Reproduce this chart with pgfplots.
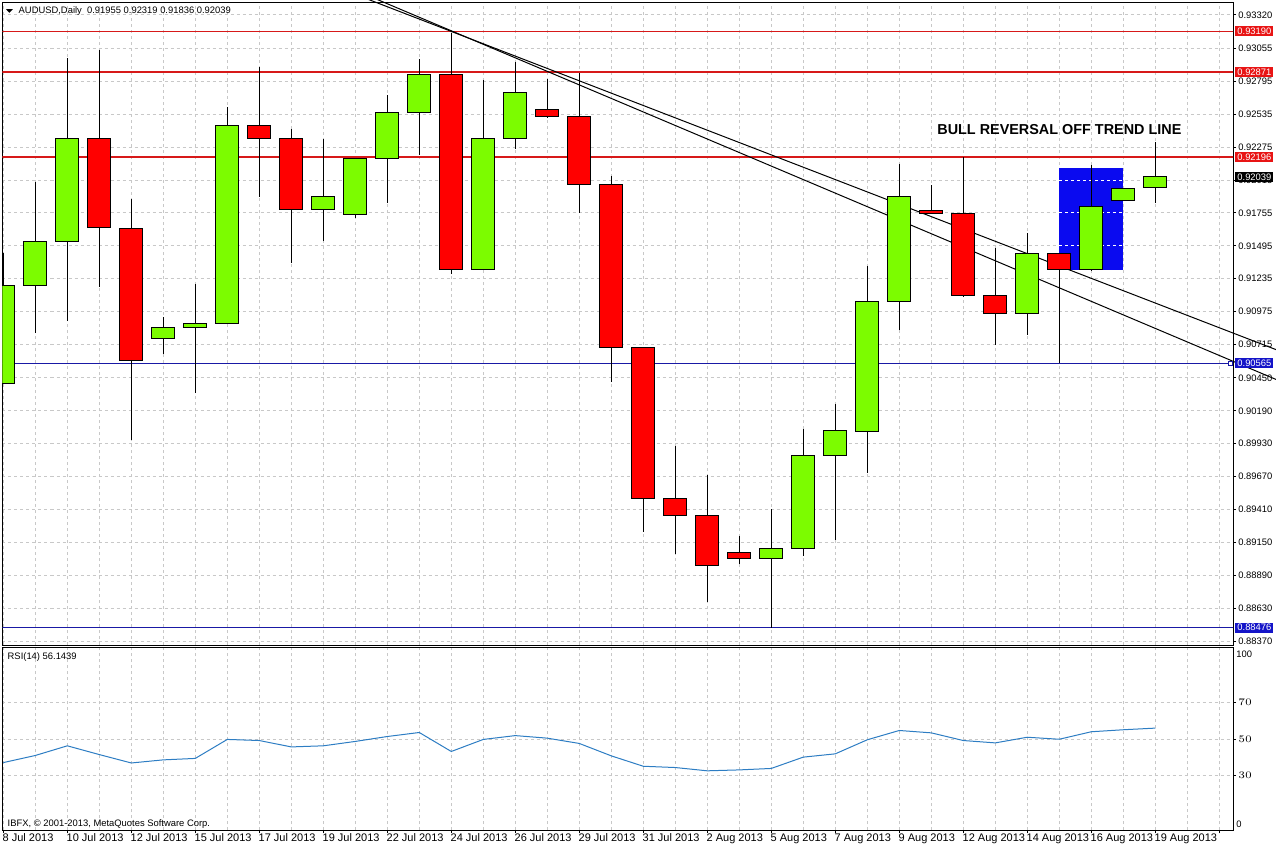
\documentclass[border=0pt]{standalone}
\usepackage{pgfplots}
\pgfplotsset{compat=1.18}
\usepackage{pgfplotstable}
\usepackage{fontspec}
\setmainfont{Liberation Sans}

\definecolor{upgreen}{RGB}{124,252,0}
\definecolor{dnred}{RGB}{255,0,0}
\definecolor{lvlred}{RGB}{215,25,25}
\definecolor{boxred}{RGB}{232,20,20}
\definecolor{lvlblue}{RGB}{25,25,165}
\definecolor{boxblue}{RGB}{20,20,200}
\definecolor{rectblue}{RGB}{10,10,240}
\definecolor{rsiblue}{RGB}{45,125,195}
\definecolor{gridgray}{RGB}{200,200,200}

\newcommand\tickfont{\fontsize{4.7}{5.5}\selectfont}
\newcommand\datefont{\fontsize{5.5}{6.5}\selectfont}

% bar index (0 = 8 Jul 2013, Sunday bars included), open, high, low, close
\pgfplotstableread{
i  o       h       l       c
0  0.90408 0.91438 0.90406 0.91179
1  0.91181 0.92002 0.90803 0.91531
2  0.91531 0.92982 0.90900 0.92345
5  0.90764 0.90934 0.90637 0.90851
6  0.90851 0.91198 0.90329 0.90882
7  0.90882 0.92595 0.90877 0.92448
10 0.91784 0.92337 0.91535 0.91883
11 0.91744 0.92190 0.91712 0.92187
12 0.92187 0.92687 0.91836 0.92551
13 0.92551 0.92970 0.92213 0.92852
15 0.91308 0.92803 0.91302 0.92341
16 0.92341 0.92945 0.92257 0.92706
24 0.89023 0.89411 0.88476 0.89101
25 0.89104 0.90050 0.89043 0.89840
26 0.89840 0.90242 0.89169 0.90036
27 0.90030 0.91338 0.89698 0.91056
28 0.91056 0.92139 0.90829 0.91886
32 0.90961 0.91594 0.90790 0.91436
34 0.91309 0.92134 0.91298 0.91810
35 0.91857 0.91955 0.91850 0.91950
36 0.91955 0.92319 0.91836 0.92039
}\upbars

\pgfplotstableread{
i  o       h       l       c
3  0.92345 0.93043 0.91172 0.91638
4  0.91633 0.91865 0.89959 0.90590
8  0.92448 0.92911 0.91883 0.92345
9  0.92345 0.92416 0.91361 0.91784
14 0.92852 0.93180 0.91270 0.91308
17 0.92574 0.92816 0.92502 0.92519
18 0.92519 0.92864 0.91754 0.91980
19 0.91980 0.92051 0.90421 0.90692
20 0.90692 0.90695 0.89233 0.89498
21 0.89498 0.89912 0.89056 0.89362
22 0.89362 0.89685 0.88678 0.88969
23 0.89072 0.89201 0.88981 0.89023
29 0.91776 0.91976 0.91750 0.91754
30 0.91752 0.92195 0.91088 0.91104
31 0.91104 0.91480 0.90711 0.90961
33 0.91436 0.91440 0.90565 0.91309
}\downbars

\pgfplotstableread{
i  v
0  37.2
1  41.1
2  46.4
3  41.6
4  37.0
5  38.7
6  39.5
7  49.9
8  49.3
9  45.8
10 46.4
11 48.8
12 51.5
13 53.7
14 43.3
15 49.9
16 52.0
17 50.6
18 47.7
19 40.9
20 35.2
21 34.5
22 32.7
23 33.2
24 34.0
25 40.2
26 42.0
27 49.7
28 54.8
29 53.5
30 49.3
31 48.0
32 51.1
33 50.0
34 54.1
35 55.2
36 56.1
}\rsidata

\pgfplotsset{
  mt4/.style={
    scale only axis, clip mode=individual,
    xmin=-0.025, xmax=38.43,
    axis line style={black, line width=0.5pt},
    tick align=outside, major tick length=1.5pt, minor tick length=0pt,
    tick style={black, line width=0.5pt},
    ytick pos=right, yticklabel pos=right,
    yticklabel style={font=\tickfont, anchor=west, inner sep=0pt, xshift=1pt},
    xtick={0,2,...,38}, minor xtick={1,3,...,37},
    grid=both,
    major grid style={gridgray, line width=0.5pt, dash pattern=on 1.5pt off 1.5pt},
    minor grid style={gridgray, line width=0.5pt, dash pattern=on 1.5pt off 1.5pt},
  },
  wick/.style={draw=none, mark=none, forget plot,
    error bars/.cd, y dir=both, y explicit, error mark=none,
    error bar style={draw=black, line width=0.5pt}},
  body/.style 2 args={draw=none, mark=none, forget plot,
    error bars/.cd, y dir=both, y explicit, error mark=none,
    error bar style={draw=#1, line width=#2}},
  level/.style={draw=#1, line width=0.75pt, mark=none, forget plot},
}

\begin{document}
\begin{tikzpicture}
\path[use as bounding box] (0,0) rectangle (638pt,-424.5pt);

\begin{axis}[mt4, name=main,
  at={(1.25pt,-1.25pt)}, anchor=north west,
  width=615.25pt, height=321.25pt,
  ymin=0.883384, ymax=0.934188,
  xticklabels={}, xticklabel style={text opacity=0}, xtick style={draw=none},
  ytick={0.88370,0.88630,0.88890,0.89150,0.89410,0.89670,0.89930,0.90190,0.90450,0.90715,
         0.90975,0.91235,0.91495,0.91755,0.92015,0.92275,0.92535,0.92795,0.93055,0.93320},
  yticklabels={0.88370,0.88630,0.88890,0.89150,0.89410,0.89670,0.89930,0.90190,0.90450,0.90715,
         0.90975,0.91235,0.91495,0.91755,0.92015,0.92275,0.92535,0.92795,0.93055,0.93320},
]
% horizontal price levels
\addplot[level=lvlred] coordinates {(-1,0.93190) (40,0.93190)};
\addplot[level=lvlred] coordinates {(-1,0.92871) (40,0.92871)};
\addplot[level=lvlred] coordinates {(-1,0.92196) (40,0.92196)};
\addplot[level=lvlblue] coordinates {(-1,0.90565) (40,0.90565)};
\addplot[level=lvlblue] coordinates {(-1,0.88476) (40,0.88476)};
% trend lines
\draw[black, line width=0.5pt] (axis cs:11,0.93483) -- (axis cs:40,0.90652);
\draw[black, line width=0.5pt] (axis cs:11,0.93516) -- (axis cs:40,0.90414);
% rectangle object
\fill[rectblue] (axis cs:33,0.91304) rectangle (axis cs:35,0.92108);
\draw[white, line width=0.5pt, dash pattern=on 1.5pt off 1.5pt] (axis cs:33,0.92015) -- (axis cs:35,0.92015);
\draw[white, line width=0.5pt, dash pattern=on 1.5pt off 1.5pt] (axis cs:33,0.91755) -- (axis cs:35,0.91755);
\draw[white, line width=0.5pt, dash pattern=on 1.5pt off 1.5pt] (axis cs:33,0.91495) -- (axis cs:35,0.91495);
% candles
\addplot[wick] table[x=i, y expr={(\thisrow{h}+\thisrow{l})/2}, y error expr={(\thisrow{h}-\thisrow{l})/2}] {\upbars};
\addplot[wick] table[x=i, y expr={(\thisrow{h}+\thisrow{l})/2}, y error expr={(\thisrow{h}-\thisrow{l})/2}] {\downbars};
\addplot[body={black}{12pt}] table[x=i, y expr={(\thisrow{o}+\thisrow{c})/2}, y error expr={abs(\thisrow{c}-\thisrow{o})/2+0.00004}] {\upbars};
\addplot[body={black}{12pt}] table[x=i, y expr={(\thisrow{o}+\thisrow{c})/2}, y error expr={abs(\thisrow{c}-\thisrow{o})/2+0.00004}] {\downbars};
\addplot[body={upgreen}{11pt}] table[x=i, y expr={(\thisrow{o}+\thisrow{c})/2}, y error expr={max(abs(\thisrow{c}-\thisrow{o})/2-0.00004,0)}] {\upbars};
\addplot[body={dnred}{11pt}] table[x=i, y expr={(\thisrow{o}+\thisrow{c})/2}, y error expr={max(abs(\thisrow{c}-\thisrow{o})/2-0.00004,0)}] {\downbars};

\node[draw=lvlblue, fill=white, inner sep=0pt, minimum size=2pt, line width=0.4pt] at (axis cs:38.36,0.90565) {};
\coordinate (b1) at (axis cs:38.43,0.93190);
\coordinate (b2) at (axis cs:38.43,0.92871);
\coordinate (b3) at (axis cs:38.43,0.92196);
\coordinate (b4) at (axis cs:38.43,0.92039);
\coordinate (b5) at (axis cs:38.43,0.90565);
\coordinate (b6) at (axis cs:38.43,0.88476);
\end{axis}

\begin{axis}[mt4, name=rsi,
  at={(1.25pt,-324pt)}, anchor=north west,
  width=615.25pt, height=91.25pt,
  ymin=0, ymax=100,
  ytick={30,50,70},
  xtick pos=left, xticklabel pos=left,
  xticklabels={8 Jul 2013,10 Jul 2013,12 Jul 2013,15 Jul 2013,17 Jul 2013,19 Jul 2013,
    22 Jul 2013,24 Jul 2013,26 Jul 2013,29 Jul 2013,31 Jul 2013,2 Aug 2013,5 Aug 2013,
    7 Aug 2013,9 Aug 2013,12 Aug 2013,14 Aug 2013,16 Aug 2013,19 Aug 2013,{}},
  xticklabel style={font=\datefont, anchor=north west, inner sep=0pt, xshift=-0.5pt},
]
\addplot[rsiblue, line width=0.5pt, mark=none, forget plot] table[x=i, y=v] {\rsidata};
\end{axis}

\tikzset{lbl/.style={anchor=west, xshift=1pt, inner sep=0pt, minimum width=19pt,
  minimum height=5pt, text=white, font=\tickfont}}
\node[lbl, fill=boxred] at (b1) {0.93190};
\node[lbl, fill=boxred] at (b2) {0.92871};
\node[lbl, fill=boxred] at (b3) {0.92196};
\node[lbl, fill=black] at (b4) {0.92039};
\node[lbl, fill=boxblue] at (b5) {0.90565};
\node[lbl, fill=boxblue] at (b6) {0.88476};

\node[font=\tickfont, anchor=north west, inner sep=0pt, xshift=1.5pt, yshift=-1.3pt] at (rsi.north east) {100};
\node[font=\tickfont, anchor=south west, inner sep=0pt, xshift=1.5pt, yshift=1.2pt] at (rsi.south east) {0};

% header texts
\fill[black] (3pt,-4.6pt) -- (6.4pt,-4.6pt) -- (4.7pt,-6.4pt) -- cycle;
\node[font=\tickfont, anchor=base west, inner sep=0pt] at (9.15pt,-7pt) {AUDUSD,Daily\ \ 0.91955 0.92319 0.91836 0.92039};
\node[font=\tickfont, anchor=base west, inner sep=0pt] at (3.65pt,-329.6pt) {RSI(14) 56.1439};
\node[font=\tickfont, anchor=base west, inner sep=0pt] at (3.65pt,-413.5pt) {IBFX, \textcopyright\ 2001-2013, MetaQuotes Software Corp.};
\node[font=\fontsize{7.2}{8}\selectfont\bfseries, anchor=base west, inner sep=0pt] at (468.5pt,-67.5pt) {BULL REVERSAL OFF TREND LINE};
\end{tikzpicture}
\end{document}
